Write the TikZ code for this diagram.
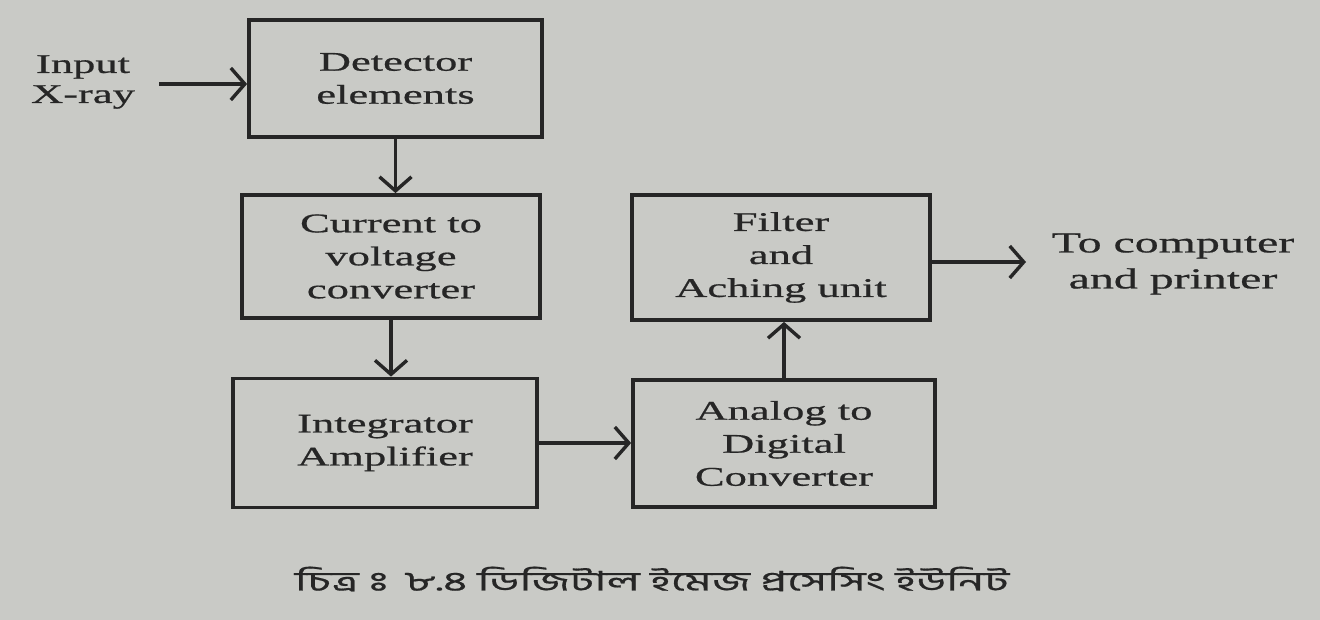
\documentclass[tikz,border=0pt]{standalone}
\usepackage{fontspec}
\setmainfont[FakeStretch=1.65,FakeBold=0.7]{Liberation Serif}
\newfontfamily\bnfont[Script=Bengali,FakeStretch=1.7,FakeBold=0.6]{Hind Siliguri}
\usetikzlibrary{arrows.meta}
\definecolor{paper}{RGB}{201,202,198}
\definecolor{ink}{RGB}{38,38,38}
\newcommand{\lblfont}{\fontsize{27}{33}\selectfont}
\newcommand{\bnvisarga}{{\XeTeXglyph\XeTeXcharglyph"0983\relax}}
\begin{document}
\begin{tikzpicture}[x=1pt,y=-1pt,
  blk/.style={draw=ink,line width=3.8pt,align=center,inner sep=0pt,text=ink,font=\lblfont},
  lbl/.style={align=center,inner sep=0pt,text=ink},
  arr/.style={draw=ink,line width=3.4pt,-{Straight Barb[length=14pt,width=32pt]}}]
\useasboundingbox (0,0) rectangle (1320,620);
\fill[paper] (0,0) rectangle (1320,620);

\node[blk,minimum width=293pt,minimum height=117pt] (det) at (395.5,78.5) {Detector\\elements};
\node[blk,minimum width=298pt,minimum height=123pt] (cur) at (391,256.5) {Current to\\voltage\\converter};
\node[blk,minimum width=304pt,minimum height=129pt] (int) at (385,443) {Integrator\\Amplifier};
\node[blk,minimum width=302pt,minimum height=127pt] (adc) at (784,443.5) {Analog to\\Digital\\Converter};
\node[blk,minimum width=298pt,minimum height=125pt] (fil) at (781,257.5) {Filter\\and\\Aching unit};

\node[lbl,font=\fontsize{27}{30}\selectfont] (inp) at (83,82) {Input\\X-ray};
\node[lbl,font=\fontsize{29}{36}\selectfont] (out) at (1173,264) {To computer\\and printer};

\coordinate (inS) at (159,84);
\coordinate (outE) at (1026,262);

\draw[arr] (inS) -- (inS -| det.west);
\draw[arr] (det.south) -- (det.south |- cur.north);
\draw[arr] (cur.south) -- (cur.south |- int.north);
\draw[arr] (int.east) -- (int.east -| adc.west);
\draw[arr] (adc.north) -- (adc.north |- fil.south);
\draw[arr] (fil.east |- outE) -- (outE);

\node[inner sep=0pt,text=ink,font=\bnfont\fontsize{27}{30}\selectfont] (cap) at (652,579) {চিত্র \bnvisarga\hspace{24pt}৮.৪ ডিজিটাল ইমেজ প্রসেসিং ইউনিট};
\end{tikzpicture}
\end{document}
